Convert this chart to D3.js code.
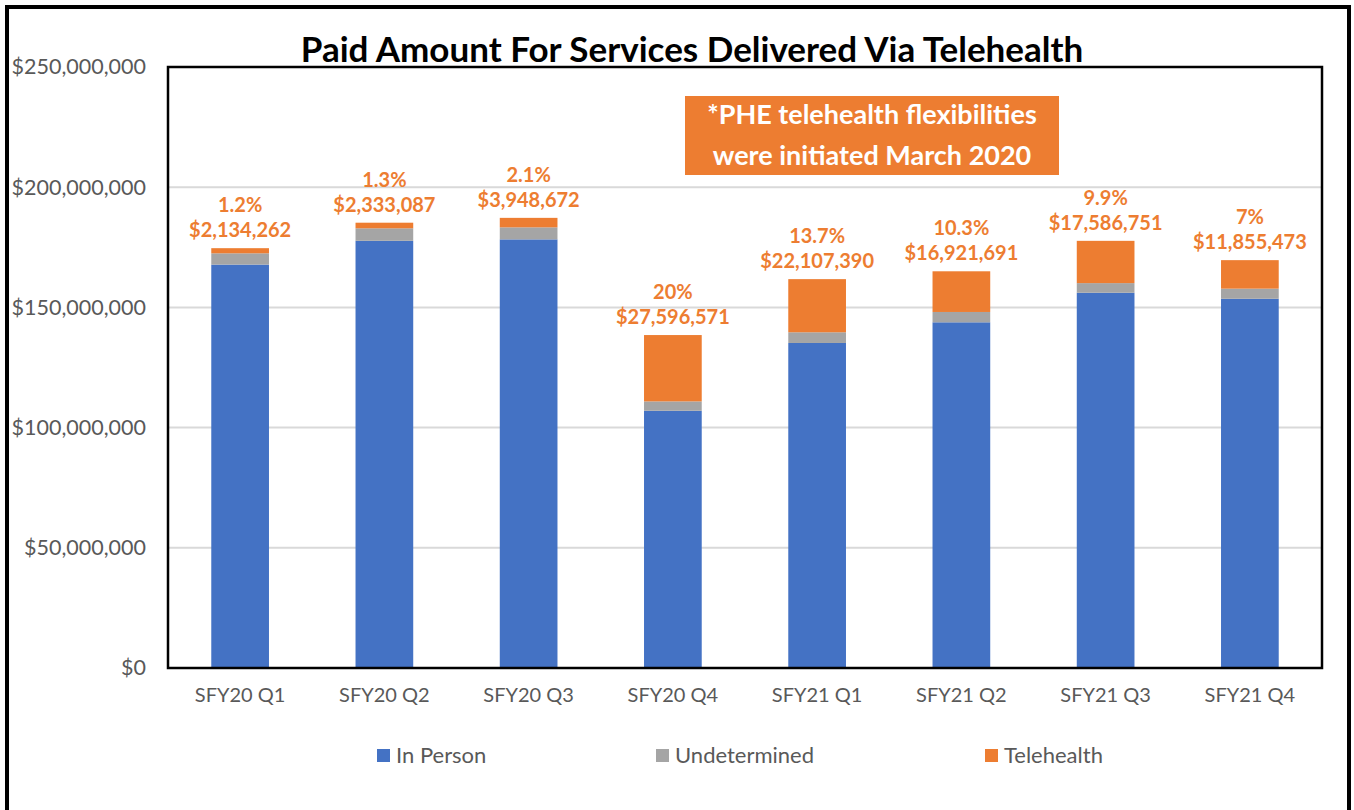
<!DOCTYPE html>
<html>
<head>
<meta charset="utf-8">
<script src="https://cdn.jsdelivr.net/npm/d3@7"></script>
<style>
  body { margin: 0; background: #fff; }
  text { font-family: Lato, "Open Sans", sans-serif; }
</style>
</head>
<body>
<svg id="chart" width="1354" height="810"></svg>
<script>
// quarters on the x axis
var quarters = ['SFY20 Q1', 'SFY20 Q2', 'SFY20 Q3', 'SFY20 Q4', 'SFY21 Q1', 'SFY21 Q2', 'SFY21 Q3', 'SFY21 Q4'];
// paid amounts (dollars)
var inPerson = [167.8e6, 177.7e6, 178.3e6, 107.0e6, 135.2e6, 143.8e6, 156.1e6, 153.6e6];
var undetermined = [4.7e6, 5.2e6, 5.0e6, 3.9e6, 4.45e6, 4.3e6, 4.0e6, 4.2e6];
var telehealth = [2134262, 2333087, 3948672, 27596571, 22107390, 16921691, 17586751, 11855473];
// telehealth share labels as printed
var shareLabels = ['1.2%', '1.3%', '2.1%', '20%', '13.7%', '10.3%', '9.9%', '7%'];
var yTicks = [0, 50e6, 100e6, 150e6, 200e6, 250e6];

var series = [
    { name: 'In Person', values: inPerson, color: '#4472C4' },
    { name: 'Undetermined', values: undetermined, color: '#A5A5A5' },
    { name: 'Telehealth', values: telehealth, color: '#ED7D31' }
];

var svg = d3.select('#chart');

/*рамка вокруг всей картинки*/
svg.append('rect')
    .attr('x', 7).attr('y', 7)
    .attr('width', 1342).attr('height', 830)
    .attr('fill', 'none')
    .attr('stroke', '#000')
    .attr('stroke-width', 4);

var x = d3.scaleBand()
    .domain(quarters)
    .range([168, 1322])
    .paddingInner(0.6)
    .paddingOuter(0.3);

var y = d3.scaleLinear()
    .domain([0, 250e6])
    .range([668, 67]);

/*сетка*/
svg.append('g').selectAll('line')
    .data(yTicks.slice(1, -1))
    .enter().append('line')
    .attr('x1', 168).attr('x2', 1322)
    .attr('y1', d => y(d)).attr('y2', d => y(d))
    .attr('stroke', '#D9D9D9')
    .attr('stroke-width', 2);

/*столбцы*/
var stacked = quarters.map(function(q, i) {
    let row = { q: q };
    series.forEach(s => row[s.name] = s.values[i]);
    return row;
});
var stack = d3.stack().keys(series.map(s => s.name))(stacked);

svg.append('g').selectAll('g')
    .data(stack)
    .enter().append('g')
    .attr('fill', (d, i) => series[i].color)
    .selectAll('rect')
    .data(d => d)
    .enter().append('rect')
    .attr('x', d => x(d.data.q))
    .attr('y', d => y(d[1]))
    .attr('width', x.bandwidth())
    .attr('height', d => y(d[0]) - y(d[1]));

/*рамка области графика*/
svg.append('rect')
    .attr('x', 168).attr('y', 67)
    .attr('width', 1322 - 168).attr('height', 668 - 67)
    .attr('fill', 'none')
    .attr('stroke', '#000')
    .attr('stroke-width', 2.5);

/*ось Y*/
var yAxis = svg.append('g')
    .attr('transform', 'translate(168,0)')
    .call(d3.axisLeft(y).tickValues(yTicks).tickFormat(d3.format('$,')).tickSize(0).tickPadding(22));
yAxis.select('.domain').remove();
yAxis.selectAll('text')
    .attr('fill', '#595959')
    .style('font-size', '21.5px');

/*ось X*/
var xAxis = svg.append('g')
    .attr('transform', 'translate(0,668)')
    .call(d3.axisBottom(x).tickSize(0).tickPadding(20));
xAxis.select('.domain').remove();
xAxis.selectAll('text')
    .attr('fill', '#595959')
    .style('font-size', '20px');

/*подписи над столбцами*/
var totals = stacked.map(d => series.reduce((a, s) => a + d[s.name], 0));
var labels = svg.append('g')
    .attr('fill', '#ED7D31')
    .style('font-weight', 'bold')
    .style('font-size', '20px')
    .attr('text-anchor', 'middle');
labels.selectAll('text.amt')
    .data(quarters)
    .enter().append('text')
    .attr('class', 'amt')
    .attr('x', d => x(d) + x.bandwidth() / 2)
    .attr('y', (d, i) => y(totals[i]) - 11)
    .text((d, i) => d3.format('$,')(telehealth[i]));
labels.selectAll('text.pct')
    .data(quarters)
    .enter().append('text')
    .attr('class', 'pct')
    .attr('x', d => x(d) + x.bandwidth() / 2)
    .attr('y', (d, i) => y(totals[i]) - 36)
    .text((d, i) => shareLabels[i]);

/*заголовок*/
svg.append('text')
    .attr('x', 692).attr('y', 62)
    .attr('text-anchor', 'middle')
    .style('font-size', '35px')
    .style('font-weight', 'bold')
    .attr('fill', '#000')
    .text('Paid Amount For Services Delivered Via Telehealth');

/*оранжевая плашка*/
svg.append('rect')
    .attr('x', 685).attr('y', 96)
    .attr('width', 374).attr('height', 79)
    .attr('fill', '#ED7D31');
svg.append('text')
    .attr('x', 872).attr('y', 124)
    .attr('text-anchor', 'middle')
    .attr('fill', '#fff')
    .style('font-size', '27px')
    .style('font-weight', 'bold')
    .text('*PHE telehealth flexibilities');
svg.append('text')
    .attr('x', 872).attr('y', 165)
    .attr('text-anchor', 'middle')
    .attr('fill', '#fff')
    .style('font-size', '27px')
    .style('font-weight', 'bold')
    .text('were initiated March 2020');

/*легенда*/
var legendX = [377, 656, 985];
var legend = svg.append('g').selectAll('g')
    .data(series)
    .enter().append('g')
    .attr('transform', (d, i) => 'translate(' + legendX[i] + ',749)');
legend.append('rect')
    .attr('width', 13).attr('height', 13)
    .attr('fill', d => d.color);
legend.append('text')
    .attr('x', 19).attr('y', 14)
    .attr('fill', '#595959')
    .style('font-size', '22px')
    .text(d => d.name);
</script>
</body>
</html>
